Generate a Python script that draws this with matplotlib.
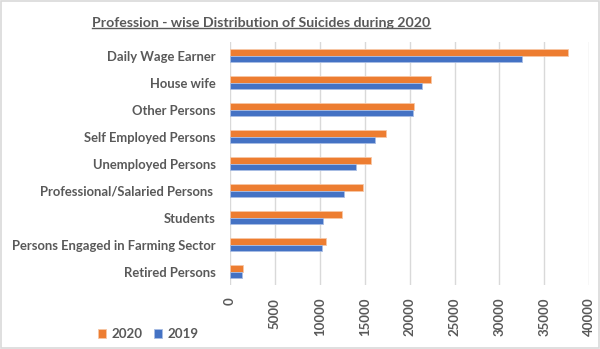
import numpy as np
import matplotlib
matplotlib.use('Agg')
import matplotlib.pyplot as plt
from matplotlib.patches import Rectangle

# Suicide counts by profession, top category first
professions = ['Daily Wage Earner', 'House wife', 'Other Persons', 'Self Employed Persons',
               'Unemployed Persons', 'Professional/Salaried Persons ', 'Students',
               'Persons Engaged in Farming Sector', 'Retired Persons']
deaths_2020 = [37666, 22372, 20480, 17332, 15652, 14825, 12526, 10677, 1450]
deaths_2019 = [32563, 21359, 20370, 16098, 14019, 12723, 10335, 10281, 1290]
x_ticks = [0, 5000, 10000, 15000, 20000, 25000, 30000, 35000, 40000]

ORANGE = '#ED7D31'
BLUE = '#4472C4'
TEXT = '#595959'

plt.rcParams['font.family'] = ['Lato', 'DejaVu Sans']

fig = plt.figure(figsize=(6.0, 3.49), dpi=100)
ax = fig.add_axes([0.3833, 0.183, 0.5988, 0.696])

y = np.arange(len(professions))
h = 0.24
ax.barh(y - h / 2, deaths_2020, height=h, color=ORANGE, label='2020',
        edgecolor='#f7c7a6', linewidth=0.6, zorder=3)
ax.barh(y + h / 2, deaths_2019, height=h, color=BLUE, label='2019',
        edgecolor='#a9bde4', linewidth=0.6, zorder=3)

ax.set_ylim(len(professions) - 0.5, -0.5)
ax.set_xlim(0, 40000)
ax.set_yticks(y)
ax.set_yticklabels(professions, fontsize=9.4, fontweight='bold', color=TEXT)
ax.set_xticks(x_ticks)
ax.set_xticklabels([str(v) for v in x_ticks], rotation=90, fontsize=9.5,
                   fontweight='bold', color=TEXT)
ax.tick_params(axis='y', length=0, pad=10)
ax.tick_params(axis='x', length=0, pad=9)
ax.grid(axis='x', color='#d9d9d9', linewidth=1, zorder=0)
for s in ax.spines.values():
    s.set_visible(False)

title = fig.text(0.435, 0.935, 'Profession - wise Distribution of Suicides during 2020',
                 ha='center', va='center', fontsize=10.2, fontweight='bold', color=TEXT)
# underline the title
fig.canvas.draw()
bb = title.get_window_extent().transformed(fig.transFigure.inverted())
fig.add_artist(plt.Line2D([bb.x0, bb.x1], [bb.y0 + 0.002, bb.y0 + 0.002],
                          color=TEXT, linewidth=1.0, transform=fig.transFigure))

leg = fig.legend(loc='center', bbox_to_anchor=(0.247, 0.043), ncol=2, frameon=False,
                 fontsize=9.6, handlelength=0.6, handleheight=0.6, handletextpad=0.4,
                 columnspacing=0.9)
for t in leg.get_texts():
    t.set_color(TEXT)
    t.set_fontweight('bold')

# light frame round the whole chart
fig.add_artist(Rectangle((0.002, 0.003), 0.996, 0.994, transform=fig.transFigure,
                         fill=False, edgecolor='#d9d9d9', linewidth=1.2))

fig.savefig('out.png', dpi=100)
